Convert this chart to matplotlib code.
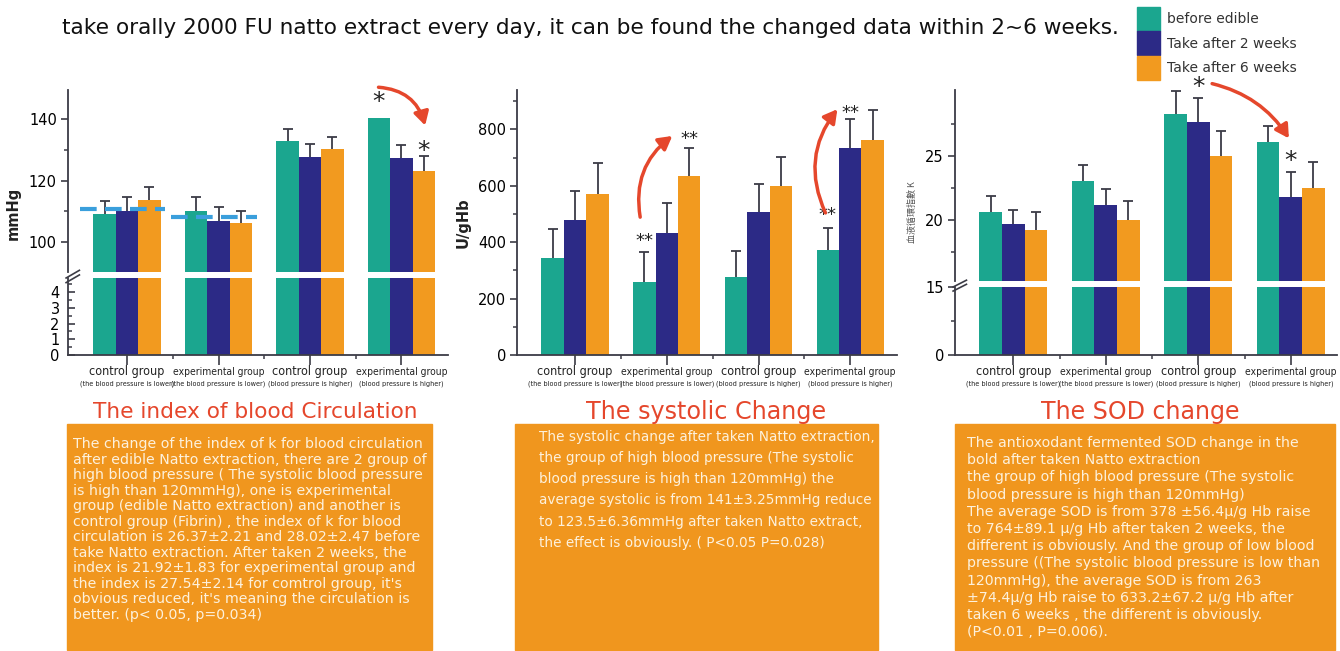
import numpy as np
import matplotlib
matplotlib.use('Agg')
import matplotlib.pyplot as plt
from matplotlib.patches import Rectangle, Patch

W, H = 1340, 651
plt.rcParams['font.family'] = ['DejaVu Sans']

# legend / series
series = ['before edible', 'Take after 2 weeks', 'Take after 6 weeks']
colors = ['#1ba68f', '#2c2a86', '#f29a1f']

groups = ['control group', 'experimental group', 'control group', 'experimental group']
subgroups = ['(the blood pressure is lower)', '(the blood pressure is lower)',
             '(blood pressure is higher)', '(blood pressure is higher)']

# chart 1 - index of blood circulation (mmHg)
circ_mean = [[108.9, 110.1, 133.0, 140.4],
             [110.0, 106.9, 127.6, 127.5],
             [113.6, 106.2, 130.2, 123.1]]
circ_err = [[4.5, 4.4, 3.8, np.nan],
            [4.5, 4.5, 4.3, 4.1],
            [4.2, 3.8, 4.1, 4.9]]
circ_ref = [110.8, 108.2]          # dashed lines over the two low groups
circ_stars = [(2.755, 145.7, '*'), (3.245, 129.7, '*')]

# chart 2 - systolic change (U/gHb)
sys_mean = [[343, 258, 276, 372],
            [479, 432, 506, 736],
            [571, 635, 600, 763]]
sys_err = [[104, 109, 94, 80],
           [103, 108, 101, 100],
           [109, 98, 101, 106]]
sys_stars = [(0.755, 405, '**'), (1.245, 766, '**'), (2.755, 496, '**'), (3.0, 860, '**')]

# chart 3 - SOD change
sod_mean = [[20.6, 23.05, 28.33, 26.12],
            [19.66, 21.17, 27.68, 21.82],
            [19.17, 20.0, 25.0, 22.53]]
sod_err = [[1.3, 1.25, 1.83, 1.22],
           [1.14, 1.23, 1.88, 1.96],
           [1.48, 1.5, 1.98, 2.03]]
sod_stars = [(2.0, 30.4, '*'), (3.0, 24.6, '*')]

header = 'take orally 2000 FU natto extract every day, it can be found the changed data within 2~6 weeks.'
titles = ['The index of blood Circulation', 'The systolic Change', 'The SOD change']
notes = [
    "The change of the index of k for blood circulation\n"
    "after edible Natto extraction, there are 2 group of\n"
    "high blood pressure ( The systolic blood pressure\n"
    "is high than 120mmHg), one is experimental\n"
    "group (edible Natto extraction) and another is\n"
    "control group (Fibrin) , the index of k for blood\n"
    "circulation is 26.37\u00b12.21 and 28.02\u00b12.47 before\n"
    "take Natto extraction. After taken 2 weeks, the\n"
    "index is 21.92\u00b11.83 for experimental group and\n"
    "the index is 27.54\u00b12.14 for comtrol group, it's\n"
    "obvious reduced, it's meaning the circulation is\n"
    "better. (p< 0.05, p=0.034)",
    "The systolic change after taken Natto extraction,\n"
    "the group of high blood pressure (The systolic\n"
    "blood pressure is high than 120mmHg) the\n"
    "average systolic is from 141\u00b13.25mmHg reduce\n"
    "to 123.5\u00b16.36mmHg after taken Natto extract,\n"
    "the effect is obviously. ( P<0.05 P=0.028)",
    "The antioxodant fermented SOD change in the\n"
    "bold after taken Natto extraction\n"
    "the group of high blood pressure (The systolic\n"
    "blood pressure is high than 120mmHg)\n"
    "The average SOD is from 378 \u00b156.4\u03bc/g Hb raise\n"
    "to 764\u00b189.1 \u03bc/g Hb after taken 2 weeks, the\n"
    "different is obviously. And the group of low blood\n"
    "pressure ((The systolic blood pressure is low than\n"
    "120mmHg), the average SOD is from 263\n"
    "\u00b174.4\u03bc/g Hb raise to 633.2\u00b167.2 \u03bc/g Hb after\n"
    "taken 6 weeks , the different is obviously.\n"
    "(P<0.01 , P=0.006).",
]

BW = 0.245
AX_COL = '#3c3c46'
RED = '#e5472c'
LABEL_SIZE = [9, 7.4, 9, 7.4]

fig = plt.figure(figsize=(W / 100, H / 100), dpi=100)


def add_ax(x0, y0, x1, y1):
    return fig.add_axes([x0 / W, 1 - y1 / H, (x1 - x0) / W, (y1 - y0) / H])


def draw_bars(ax, means, errs):
    x = np.arange(len(groups))
    for k in range(3):
        ax.bar(x + (k - 1) * BW, means[k], BW, color=colors[k], zorder=2)
        if errs is not None:
            eb = ax.errorbar(x + (k - 1) * BW, means[k], yerr=[np.zeros(4), errs[k]], fmt='none',
                             ecolor=AX_COL, elinewidth=1.3, capsize=3.5, capthick=1.3, zorder=1)
            eb[1][0].set_visible(False)   # no cap at the bar top


def style(ax, xlim, bottom=True):
    ax.set_xlim(xlim)
    for s in ['top', 'right']:
        ax.spines[s].set_visible(False)
    for s in ['left', 'bottom']:
        ax.spines[s].set_linewidth(1.3)
        ax.spines[s].set_color(AX_COL)
    ax.tick_params(axis='y', labelsize=10.5, width=1.2, length=5, color=AX_COL, pad=3)
    ax.tick_params(axis='y', which='minor', width=1.1, length=3, color=AX_COL)
    if bottom:
        ax.set_xticks(range(4))
        ax.set_xticks([0.5, 1.5, 2.5], minor=True)
        ax.set_xticklabels([])
        ax.tick_params(axis='x', which='major', width=1.2, length=7, color=AX_COL)
        ax.tick_params(axis='x', which='minor', width=1.1, length=3, color=AX_COL)
        for i in range(4):
            ax.annotate(groups[i], xy=(i, 0), xycoords=('data', 'axes fraction'),
                        xytext=(0, -17), textcoords='offset pixels', ha='center', va='center',
                        fontsize=LABEL_SIZE[i], fontstretch='condensed', color='#222222')
            ax.annotate(subgroups[i], xy=(i, 0), xycoords=('data', 'axes fraction'),
                        xytext=(0, -29), textcoords='offset pixels', ha='center', va='center',
                        fontsize=5.2, fontstretch='condensed', color='#222222')
    else:
        ax.spines['bottom'].set_visible(False)
        ax.set_xticks([])


def break_mark(ax):
    for dy in (-0.0, 0.06):
        ax.plot([-0.005, 0.03], [1.0 + dy - 0.06, 1.0 + dy + 0.04], transform=ax.transAxes,
                color=AX_COL, lw=1.2, clip_on=False)


def stars(ax, marks, size):
    for x, y, s in marks:
        ax.text(x, y, s, ha='center', va='center', fontsize=size, color='#222222', clip_on=False)


def arrow(ax, p0, p1, rad):
    ax.annotate('', xy=p1, xytext=p0, annotation_clip=False,
                arrowprops=dict(arrowstyle='-|>,head_length=0.8,head_width=0.45', color=RED,
                                lw=2.5, connectionstyle=f'arc3,rad={rad}', shrinkA=0, shrinkB=0))


# ---------- chart 1 ----------
a1u = add_ax(68, 90, 448, 272)
a1l = add_ax(68, 278, 448, 355)
xl1 = (-0.646, 3.51)
for ax in (a1u, a1l):
    draw_bars(ax, circ_mean, circ_err if ax is a1u else None)
a1u.set_ylim(90.1, 149.6)
a1u.set_yticks([100, 120, 140])
a1u.set_yticks([110, 130], minor=True)
a1l.set_ylim(0, 4.9)
a1l.set_yticks([0, 1, 2, 3, 4])
a1l.set_yticks(np.arange(0.5, 4.6, 0.5), minor=True)
style(a1u, xl1, bottom=False)
style(a1l, xl1)
a1l.tick_params(axis='y', which='both', direction='in')
a1l.tick_params(axis='y', pad=6)
for i, lvl in enumerate(circ_ref):
    a1u.hlines(lvl, i - 0.52, i + 0.42, colors='#3a9fdc', linestyles=(0, (4, 2)), lw=3, zorder=4)
break_mark(a1l)
stars(a1u, circ_stars, 18)
arrow(a1u, (2.75, 150.5), (3.26, 138.0), -0.35)
fig.text(13 / W, 1 - 213 / H, 'mmHg', rotation=90, ha='center', va='center',
         fontsize=10.5, fontweight='bold', color='#222222')

# ---------- chart 2 ----------
a2 = add_ax(517, 90, 897, 355)
draw_bars(a2, sys_mean, sys_err)
a2.set_ylim(0, 940)
a2.set_yticks([0, 200, 400, 600, 800])
a2.set_yticks([100, 300, 500, 700, 900], minor=True)
style(a2, (-0.633, 3.51))
stars(a2, sys_stars, 13)
arrow(a2, (0.71, 489), (1.06, 777), -0.3)
arrow(a2, (2.73, 504), (2.86, 872), -0.3)
fig.text(463 / W, 1 - 223 / H, 'U/gHb', rotation=90, ha='center', va='center',
         fontsize=10.5, fontweight='bold', color='#222222')

# ---------- chart 3 ----------
a3u = add_ax(955, 90, 1337, 281)
a3l = add_ax(955, 287, 1337, 355)
xl3 = (-0.63, 3.5)
for ax in (a3u, a3l):
    draw_bars(ax, sod_mean, sod_err if ax is a3u else None)
a3u.set_ylim(15.2, 30.2)
a3u.set_yticks([20, 25])
a3u.set_yticks([17.5, 22.5, 27.5], minor=True)
a3l.set_ylim(0, 15)
a3l.set_yticks([0, 15])
a3l.set_yticks([7.5], minor=True)
style(a3u, xl3, bottom=False)
style(a3l, xl3)
break_mark(a3l)
stars(a3u, sod_stars, 18)
arrow(a3u, (2.15, 30.7), (2.98, 26.4), -0.2)
fig.text(912 / W, 1 - 212 / H, '血液循環指數 K', rotation=90, ha='center', va='center',
         fontsize=6.5, color='#555555', family=['Noto Sans CJK TC', 'DejaVu Sans'])

# ---------- titles and note boxes ----------
title_x = [255, 706, 1140]
title_size = [15.6, 17.2, 17.1]
boxes = [(67, 432), (515, 878), (955, 1335)]
text_pos = [(73, 437, 10.2, 1.14), (539, 430, 9.85, 1.65), (967, 436, 10.2, 1.29)]
for i in range(3):
    fig.text(title_x[i] / W, 1 - 412 / H, titles[i], ha='center', va='center',
             fontsize=title_size[i], color=RED)
    x0, x1 = boxes[i]
    fig.add_artist(Rectangle((x0 / W, 1 - 650 / H), (x1 - x0) / W, (650 - 424) / H,
                             transform=fig.transFigure, color='#f0961e', zorder=0))
    tx, ty, fs, ls = text_pos[i]
    fig.text(tx / W, 1 - ty / H, notes[i], ha='left', va='top', fontsize=fs,
             color='#fdf1dc', linespacing=ls)

# ---------- header and legend ----------
fig.text(62 / W, 1 - 28 / H, header, ha='left', va='center', fontsize=15.6, color='#111111')
handles = [Patch(color=c) for c in colors]
fig.legend(handles, series, loc='upper left', bbox_to_anchor=(1134 / W, 1 - 4 / H),
           frameon=False, handlelength=1.7, handleheight=2.3, labelspacing=0.02,
           handletextpad=0.45, fontsize=10, labelcolor='#333333', borderaxespad=0, borderpad=0.2)

fig.savefig('out.png', dpi=100)
